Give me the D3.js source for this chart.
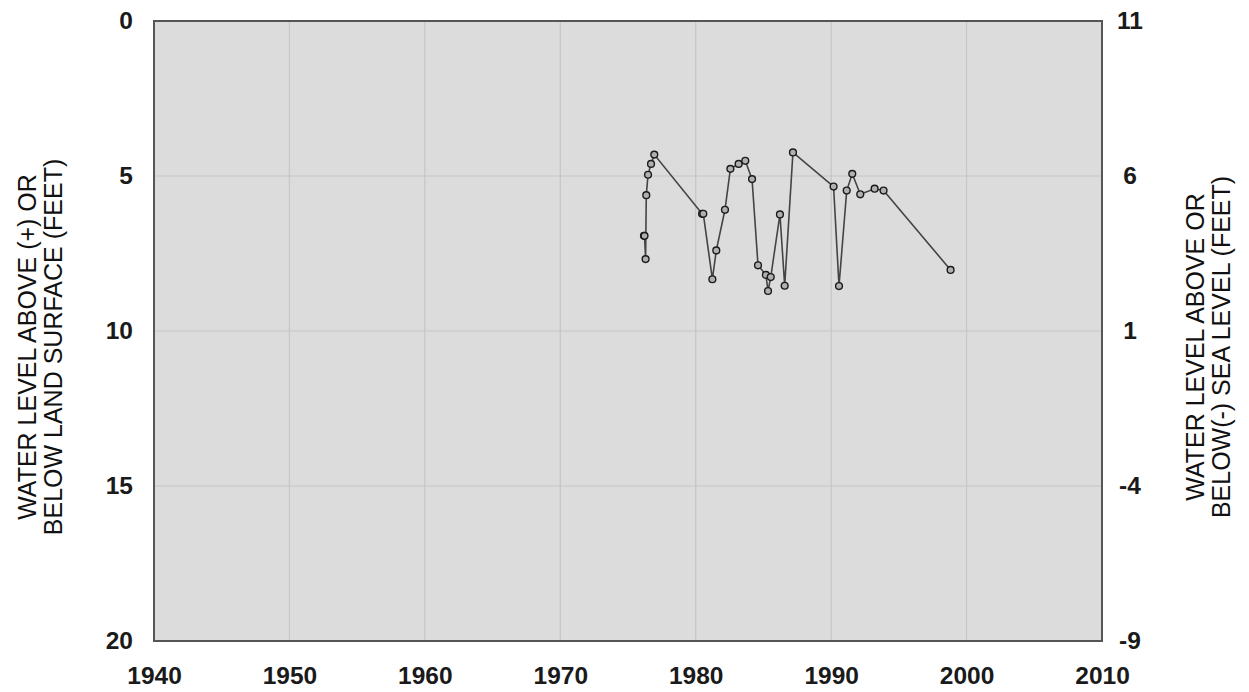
<!DOCTYPE html>
<html>
<head>
<meta charset="utf-8">
<script src="https://cdn.jsdelivr.net/npm/d3@7"></script>
<style>
  html, body { margin: 0; padding: 0; background: #fff; }
  svg { display: block; }
</style>
</head>
<body>
<svg id="chart" width="1249" height="692"></svg>
<script>
// ---- data ----
const years = [1976.18, 1976.22, 1976.30, 1976.35, 1976.48, 1976.70, 1976.94,
  1980.47, 1980.56, 1981.23, 1981.52, 1982.16, 1982.56, 1983.17, 1983.66, 1984.16,
  1984.60, 1985.18, 1985.34, 1985.54, 1986.22, 1986.57, 1987.18, 1990.18, 1990.58,
  1991.15, 1991.56, 1992.15, 1993.21, 1993.87, 1998.82];
const depths = [6.93, 6.93, 7.68, 5.62, 4.96, 4.61, 4.31,
  6.22, 6.22, 8.33, 7.40, 6.09, 4.77, 4.61, 4.51, 5.10,
  7.88, 8.19, 8.71, 8.26, 6.24, 8.54, 4.24, 5.34, 8.55,
  5.47, 4.93, 5.59, 5.41, 5.47, 8.03];
const xTicks = [1940, 1950, 1960, 1970, 1980, 1990, 2000, 2010];
const leftTicks = [0, 5, 10, 15, 20];
const rightTicks = [11, 6, 1, -4, -9];
const landSurfaceElevation = 11;
const leftTitle = ["WATER LEVEL ABOVE (+) OR", "BELOW LAND SURFACE (FEET)"];
const rightTitle = ["WATER LEVEL ABOVE OR", "BELOW(-) SEA LEVEL (FEET)"];

// ---- layout ----
const L = 154, R = 1102, T = 21, B = 641;
const svg = d3.select("#chart");
const x = d3.scaleLinear().domain([1940, 2010]).range([L, R]);
const y = d3.scaleLinear().domain([0, 20]).range([T, B]);
const y2 = d3.scaleLinear().domain([landSurfaceElevation, landSurfaceElevation - 20]).range([T, B]);

// plot background
svg.append("rect").attr("x", L).attr("y", T).attr("width", R - L).attr("height", B - T)
  .attr("fill", "#dcdcdc");

// grid
svg.append("g").selectAll("line").data(xTicks.slice(1, -1)).join("line")
  .attr("x1", d => x(d)).attr("x2", d => x(d)).attr("y1", T).attr("y2", B)
  .attr("stroke", "#c6c6c6").attr("stroke-width", 1.2);
svg.append("g").selectAll("line").data(leftTicks.slice(1, -1)).join("line")
  .attr("y1", d => y(d)).attr("y2", d => y(d)).attr("x1", L).attr("x2", R)
  .attr("stroke", "#c6c6c6").attr("stroke-width", 1.2);

// border
svg.append("rect").attr("x", L).attr("y", T).attr("width", R - L).attr("height", B - T)
  .attr("fill", "none").attr("stroke", "#555").attr("stroke-width", 2);

// axes (labels only, using d3 axis generators)
const fontTick = "'Liberation Sans', Arial, Helvetica, sans-serif";
const fmt = d => String(d);
const axL = svg.append("g").attr("transform", `translate(${L},0)`)
  .call(d3.axisLeft(y).tickValues(leftTicks).tickSize(0).tickPadding(21).tickFormat(fmt));
const axR = svg.append("g").attr("transform", `translate(${R},0)`)
  .call(d3.axisRight(y2).tickValues(rightTicks).tickSize(0).tickPadding(28).tickFormat(fmt));
const axB = svg.append("g").attr("transform", `translate(0,${B})`)
  .call(d3.axisBottom(x).tickValues(xTicks).tickSize(0).tickPadding(26).tickFormat(fmt));
[axL, axR, axB].forEach(g => {
  g.select(".domain").remove();
  g.selectAll("text").attr("font-family", fontTick).attr("font-size", 24.5)
    .attr("font-weight", "bold").attr("fill", "#1a1a1a");
});
axR.selectAll("text").attr("text-anchor", "middle");

// line + markers
const line = d3.line().x((d, i) => x(years[i])).y((d, i) => y(depths[i]));
svg.append("path").datum(depths).attr("d", line)
  .attr("fill", "none").attr("stroke", "#444").attr("stroke-width", 1.6);
svg.append("g").selectAll("circle").data(depths).join("circle")
  .attr("cx", (d, i) => x(years[i])).attr("cy", d => y(d)).attr("r", 3.4)
  .attr("fill", "#b0b0b0").attr("stroke", "#1a1a1a").attr("stroke-width", 1.4);

// axis titles
const titleFont = "'Liberation Sans', Arial, Helvetica, sans-serif";
const cy = 347;
const lt = svg.append("text").attr("transform", `translate(0,${cy}) rotate(-90)`)
  .attr("font-family", titleFont).attr("font-size", 25).attr("text-anchor", "middle").attr("fill", "#111");
lt.selectAll("tspan").data(leftTitle).join("tspan")
  .attr("x", 0).attr("y", (d, i) => 36 + i * 26).text(d => d);
const rt = svg.append("text").attr("transform", `translate(0,${cy}) rotate(-90)`)
  .attr("font-family", titleFont).attr("font-size", 25).attr("text-anchor", "middle").attr("fill", "#111");
rt.selectAll("tspan").data(rightTitle).join("tspan")
  .attr("x", 0).attr("y", (d, i) => 1204 + i * 26).text(d => d);
</script>
</body>
</html>
